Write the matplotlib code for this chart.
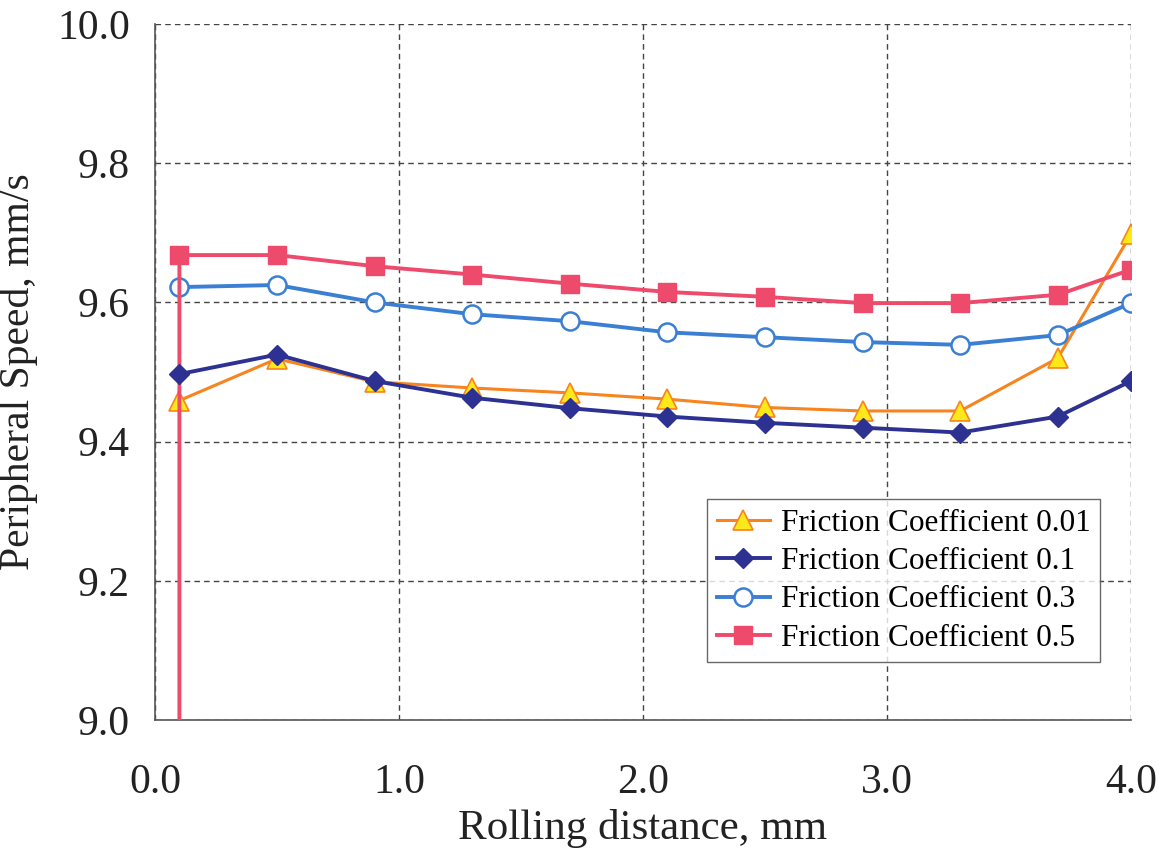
import matplotlib
matplotlib.use("Agg")
import matplotlib.pyplot as plt

x = [0.1, 0.5, 0.9, 1.3, 1.7, 2.1, 2.5, 2.9, 3.3, 3.7, 4.0]
mu_001 = [9.459, 9.519, 9.486, 9.477, 9.470, 9.461, 9.449, 9.444, 9.444, 9.520, 9.698]
mu_01 = [9.497, 9.525, 9.487, 9.463, 9.448, 9.436, 9.427, 9.420, 9.413, 9.436, 9.487]
mu_03 = [9.622, 9.625, 9.600, 9.583, 9.573, 9.557, 9.550, 9.543, 9.539, 9.553, 9.599]
mu_05_x = [0.1] + x
mu_05 = [8.9, 9.668, 9.668, 9.652, 9.640, 9.627, 9.615, 9.608, 9.599, 9.599, 9.611, 9.647]
labels = ["Friction Coefficient 0.01", "Friction Coefficient 0.1",
          "Friction Coefficient 0.3", "Friction Coefficient 0.5"]
xticks = [0.0, 1.0, 2.0, 3.0, 4.0]
yticks = [9.0, 9.2, 9.4, 9.6, 9.8, 10.0]

plt.rcParams['font.family'] = ['Liberation Serif', 'DejaVu Serif']

fig = plt.figure(figsize=(11.58, 8.56), dpi=100)
ax = fig.add_axes([155/1158, 1-720/856, (1131-155)/1158, (720-24)/856])

ax.plot(x, mu_001, color='#F7841E', lw=2.2, marker='^', ms=14,
        mfc='#FFE81A', mec='#F7841E', mew=1.2, label=labels[0], zorder=3)
ax.plot(x, mu_01, color='#2D3192', lw=2.8, marker='D', ms=10,
        mfc='#2D3192', mec='#2D3192', label=labels[1], zorder=4)
ax.plot(x, mu_03, color='#3B7FD4', lw=2.8, marker='o', ms=13,
        mfc='white', mec='#3B7FD4', mew=1.8, label=labels[2], zorder=3)
ax.plot(mu_05_x, mu_05, color='#EE4A6C', lw=2.8, marker='s', ms=13,
        mfc='#EE4A6C', mec='#EE4A6C', markevery=list(range(1, len(mu_05))),
        label=labels[3], zorder=3)

ax.set_xlim(0, 4.0)
ax.set_ylim(9.0, 10.0)
ax.set_xticks(xticks)
ax.set_yticks(yticks)
ax.set_xticklabels([f"{v:.1f}" for v in xticks])
ax.set_yticklabels([f"{v:.1f}" for v in yticks])
ax.tick_params(length=0, labelsize=30, colors='#222222')
ax.tick_params(axis='x', pad=31)
ax.tick_params(axis='y', pad=18)

ax.grid(True, linestyle=(0, (4, 3)), color='#444444', lw=1.0)
for s in ['top', 'right']:
    ax.spines[s].set_visible(False)
for s in ['left', 'bottom']:
    ax.spines[s].set_color('#555555')
    ax.spines[s].set_linewidth(1.2)

ax.set_xlabel("Rolling distance, mm", fontsize=31, color='#222222', labelpad=5)
ax.set_ylabel("Peripheral Speed, mm/s", fontsize=30, color='#222222', labelpad=14)

leg = ax.legend(loc='lower right', bbox_to_anchor=(0.968, 0.083), fontsize=22.5,
                frameon=True, fancybox=False, edgecolor='#444444',
                handlelength=1.7, handletextpad=0.35, borderpad=0.3,
                labelspacing=0.3, borderaxespad=0)
leg.get_frame().set_linewidth(1.0)

fig.savefig("out.png", dpi=100)
